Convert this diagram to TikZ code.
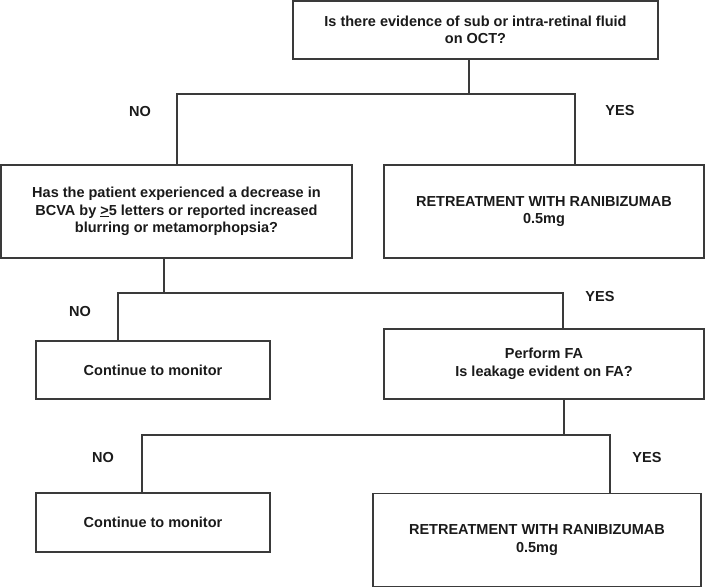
\documentclass[tikz,border=0pt]{standalone}
\usepackage{fontspec}
\setmainfont{Liberation Sans}
\definecolor{linec}{HTML}{3A3A3A}
\definecolor{textc}{HTML}{1A1A1A}
\begin{document}
\begin{tikzpicture}[x=1pt,y=-1pt,
  box/.style={draw=linec,line width=1.6pt,rectangle,inner sep=0pt,align=center,
    text=textc,font=\fontsize{14.5}{17.5}\selectfont\bfseries},
  lbl/.style={text=textc,font=\fontsize{14.5}{17}\selectfont\bfseries,inner sep=0pt},
  conn/.style={draw=linec,line width=1.6pt}]
\useasboundingbox (0,0) rectangle (705,588);
\node[box,minimum width=365pt,minimum height=58pt] (top) at (475.5,30)
  {Is there evidence of sub or intra-retinal fluid\\on OCT?};
\node[box,minimum width=351pt,minimum height=93pt] (B) at (176.5,211.5)
  {Has the patient experienced a decrease in\\BCVA by \underline{>}5 letters or reported increased\\blurring or metamorphopsia?};
\node[box,minimum width=320pt,minimum height=93pt] (R1) at (544,211.5)
  {RETREATMENT WITH RANIBIZUMAB\\0.5mg};
\node[box,minimum width=234pt,minimum height=58pt] (C1) at (153,370)
  {Continue to monitor};
\node[box,minimum width=320pt,minimum height=70pt] (FA) at (544,364)
  {Perform FA\\Is leakage evident on FA?};
\node[box,minimum width=234pt,minimum height=59pt] (C2) at (153,522.5)
  {Continue to monitor};
\node[box,minimum width=328pt,minimum height=93pt] (R2) at (537,540)
  {RETREATMENT WITH RANIBIZUMAB\\0.5mg};
% junctions
\coordinate (j1) at (469,94);
\coordinate (j1l) at (177,94);
\coordinate (j1r) at (575,94);
\coordinate (j2) at (164,293);
\coordinate (j2l) at (118,293);
\coordinate (j2r) at (563,293);
\coordinate (j3) at (564,435);
\coordinate (j3l) at (142,435);
\coordinate (j3r) at (610,435);
\draw[conn] (top.south -| j1) -- (j1);
\draw[conn] (j1l |- B.north) -- (j1l) -- (j1r) -- (j1r |- R1.north);
\draw[conn] (B.south -| j2) -- (j2);
\draw[conn] (j2l |- C1.north) -- (j2l) -- (j2r) -- (j2r |- FA.north);
\draw[conn] (FA.south -| j3) -- (j3);
\draw[conn] (j3l |- C2.north) -- (j3l) -- (j3r) -- (j3r |- R2.north);
% labels
\node[lbl] (n1) at (140,112) {NO};
\node[lbl] (y1) at (620,111) {YES};
\node[lbl] (n2) at (80,312) {NO};
\node[lbl] (y2) at (600,297) {YES};
\node[lbl] (n3) at (103,458) {NO};
\node[lbl] (y3) at (647,458) {YES};
\end{tikzpicture}
\end{document}
